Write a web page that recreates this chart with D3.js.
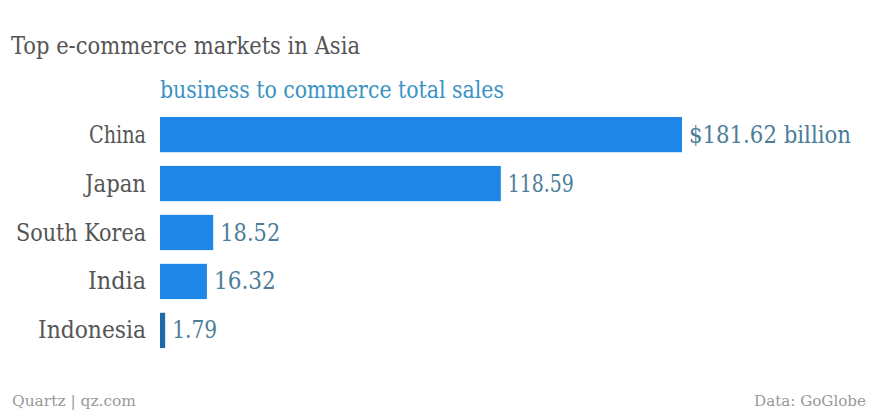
<!DOCTYPE html>
<html>
<head>
<meta charset="utf-8">
<script src="https://cdn.jsdelivr.net/npm/d3@7"></script>
<style>
  html, body { margin: 0; padding: 0; background: #fff; }
  svg { display: block; }
  text { font-stretch: condensed; }
</style>
</head>
<body>
<svg id="chart" width="871" height="413"></svg>
<script>
// Chart data
const countries = ["China", "Japan", "South Korea", "India", "Indonesia"];
const sales = [181.62, 118.59, 18.52, 16.32, 1.79];
const valueLabels = ["$181.62 billion", "118.59", "18.52", "16.32", "1.79"];

const title = "Top e-commerce markets in Asia";
const subtitle = "business to commerce total sales";
const creditLeft = "Quartz | qz.com";
const creditRight = "Data: GoGlobe";

const W = 871, H = 413;
const margin = { left: 160, top: 116, bottom: 66 };
const font = "'DejaVu Serif Condensed', 'DejaVu Serif', 'Liberation Serif', serif";

const svg = d3.select("#chart");

const x = d3.scaleLinear()
  .domain([0, d3.max(sales)])
  .range([margin.left, 682]);

const y = d3.scaleBand()
  .domain(countries)
  .range([margin.top, 349])
  .paddingInner(0.28)
  .paddingOuter(0.02);

// Title and subtitle
svg.append("text")
  .attr("x", 11).attr("y", 54)
  .attr("font-family", font).attr("font-size", 25)
  .attr("fill", "#555")
  .attr("textLength", 349).attr("lengthAdjust", "spacingAndGlyphs")
  .text(title);

svg.append("text")
  .attr("x", 160).attr("y", 98)
  .attr("font-family", font).attr("font-size", 24)
  .attr("fill", "#3a93c4")
  .attr("textLength", 344).attr("lengthAdjust", "spacingAndGlyphs")
  .text(subtitle);

// Bars
const rows = countries.map((c, i) => ({ c, v: sales[i], label: valueLabels[i] }));

svg.append("g").selectAll("rect")
  .data(rows)
  .join("rect")
  .attr("x", x(0))
  .attr("y", d => y(d.c))
  .attr("width", d => Math.max(3, x(d.v) - x(0)))
  .attr("height", y.bandwidth())
  .attr("fill", d => d.v < 5 ? "#1f6aa8" : "#1e86e6");

// Category labels
const labelWidths = { "China": 57, "Japan": 61, "South Korea": 130, "India": 58, "Indonesia": 108 };
svg.append("g").selectAll("text")
  .data(rows)
  .join("text")
  .attr("x", 146)
  .attr("y", d => y(d.c) + y.bandwidth() / 2 + 8)
  .attr("text-anchor", "end")
  .attr("font-family", font).attr("font-size", 24)
  .attr("fill", "#555")
  .attr("textLength", d => labelWidths[d.c])
  .attr("lengthAdjust", "spacingAndGlyphs")
  .text(d => d.c);

// Value labels
const valueWidths = [162, 66, 60, 62, 45];
svg.append("g").selectAll("text")
  .data(rows)
  .join("text")
  .attr("x", d => Math.max(x(d.v), x(0) + 3) + 7)
  .attr("y", d => y(d.c) + y.bandwidth() / 2 + 8)
  .attr("font-family", font).attr("font-size", 24)
  .attr("fill", "#4d7d99")
  .attr("textLength", (d, i) => valueWidths[i])
  .attr("lengthAdjust", "spacingAndGlyphs")
  .text(d => d.label);

// Credits
svg.append("text")
  .attr("x", 12).attr("y", 406)
  .attr("font-family", font).attr("font-size", 15)
  .attr("fill", "#999")
  .attr("textLength", 124).attr("lengthAdjust", "spacingAndGlyphs")
  .text(creditLeft);

svg.append("text")
  .attr("x", 866).attr("y", 406)
  .attr("text-anchor", "end")
  .attr("font-family", font).attr("font-size", 15)
  .attr("fill", "#999")
  .attr("textLength", 112).attr("lengthAdjust", "spacingAndGlyphs")
  .text(creditRight);
</script>
</body>
</html>
